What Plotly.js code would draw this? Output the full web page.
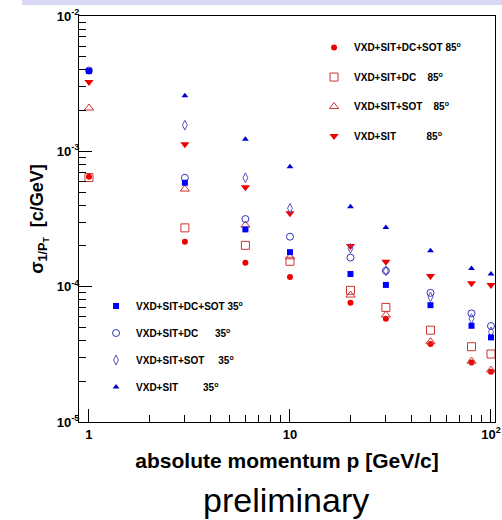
<!DOCTYPE html>
<html>
<head>
<meta charset="utf-8">
<script src="https://cdn.plot.ly/plotly-3.0.1.min.js"></script>
<style>html,body{margin:0;padding:0;background:#fff;}#chart{width:502px;height:520px;}</style>
</head>
<body>
<div id="chart"></div>
<script>
// momentum values [GeV/c]
const momentum = [1, 3, 6, 10, 20, 30, 50, 80, 100];

// 85 degrees (red)
const full85 = [6.5e-4, 2.15e-4, 1.50e-4, 1.18e-4, 7.6e-5, 5.8e-5, 3.77e-5, 2.75e-5, 2.35e-5];
const dc85   = [6.4e-4, 2.72e-4, 2.02e-4, 1.54e-4, 9.4e-5, 7.03e-5, 4.77e-5, 3.6e-5, 3.18e-5];
const sot85  = [2.09e-3, 5.26e-4, 2.85e-4, 1.66e-4, 8.67e-5, 6.17e-5, 3.92e-5, 2.82e-5, 2.42e-5];
const sit85  = [3.25e-3, 1.13e-3, 5.42e-4, 3.48e-4, 2.0e-4, 1.53e-4, 1.20e-4, 1.06e-4, 1.03e-4];

// 35 degrees (blue)
const full35 = [3.92e-3, 5.86e-4, 2.65e-4, 1.80e-4, 1.24e-4, 1.03e-4, 7.3e-5, 5.14e-5, 4.22e-5];
const dc35   = [3.95e-3, 6.38e-4, 3.16e-4, 2.34e-4, 1.64e-4, 1.31e-4, 9.0e-5, 6.35e-5, 5.12e-5];
const sot35  = [null, 1.56e-3, 6.38e-4, 3.79e-4, 1.92e-4, 1.31e-4, 8.4e-5, 5.8e-5, 4.64e-5];
const sit35  = [null, 2.58e-3, 1.23e-3, 7.69e-4, 3.90e-4, 2.74e-4, 1.84e-4, 1.36e-4, 1.24e-4];

const S = n => '\u00a0'.repeat(n);
const names85 = ["VXD+SIT+DC+SOT 85<sup>o</sup>",
                 "VXD+SIT+DC" + S(4) + "85<sup>o</sup>",
                 "VXD+SIT+SOT" + S(4) + "85<sup>o</sup>",
                 "VXD+SIT" + S(11) + "85<sup>o</sup>"];
const names35 = ["VXD+SIT+DC+SOT 35<sup>o</sup>",
                 "VXD+SIT+DC" + S(6) + "35<sup>o</sup>",
                 "VXD+SIT+SOT" + S(5) + "35<sup>o</sup>",
                 "VXD+SIT" + S(9) + "35<sup>o</sup>"];

const xTickVals = [1, 10, 100];
const xTickText = ["1", "10", "10<sup>2</sup>"];
const yTickVals = [1e-5, 1e-4, 1e-3, 1e-2];
const yTickText = ["10<sup>-5</sup>", "10<sup>-4</sup>", "10<sup>-3</sup>", "10<sup>-2</sup>"];

function tr(y, name, legend, rank, symbol, size, color, lw) {
  return {
    x: momentum, y: y, name: name, type: 'scatter', mode: 'markers',
    legend: legend, legendgroup: name, legendrank: rank,
    marker: {symbol: symbol, size: size, color: color, line: {width: lw || 0, color: color}},
    hoverinfo: 'x+y'
  };
}

const data = [
  tr(full85, names85[0], 'legend', 1, 'circle', 6, '#ee0000'),
  tr(dc85, names85[1], 'legend', 2, 'square-open', 8, '#cc3333', 1),
  tr(sot85, names85[2], 'legend', 3, 'triangle-up-open', 8, '#cc3333', 1),
  tr(sit85, names85[3], 'legend', 4, 'triangle-down', 8, '#ee0000'),
  tr(sit35, names35[3], 'legend2', 4, 'triangle-up', 6, '#0000cc'),
  tr(sot35, names35[2], 'legend2', 3, 'diamond-tall-open', 7, '#5555bb', 1),
  tr(dc35, names35[1], 'legend2', 2, 'circle-open', 7, '#3333bb', 1),
  tr(full35, names35[0], 'legend2', 1, 'square', 6, '#0000ff')
];

const axFont = {family: 'Liberation Sans, Arial, sans-serif', size: 13, color: '#000', weight: 'bold'};
const legFont = {family: 'Liberation Sans, Arial, sans-serif', size: 10, color: '#000', weight: 'bold'};

const layout = {
  width: 502, height: 520,
  margin: {l: 79, r: 7, t: 16, b: 98},
  paper_bgcolor: '#fff', plot_bgcolor: '#fff',
  showlegend: true,
  xaxis: {
    type: 'log', range: [Math.log10(0.892), Math.log10(104.7)],
    showgrid: false, zeroline: false,
    showline: true, mirror: true, linecolor: '#000', linewidth: 1,
    ticks: 'inside', ticklen: 13, tickcolor: '#000', tickwidth: 1,
    tickvals: xTickVals, ticktext: xTickText, tickfont: axFont,
    minor: {ticks: 'inside', ticklen: 7, tickcolor: '#000',
            tickvals: [2,3,4,5,6,7,8,9,20,30,40,50,60,70,80,90]},
    title: {text: 'absolute momentum p [GeV/c]', standoff: 12,
            font: {family: 'Liberation Sans, Arial, sans-serif', size: 21, color: '#000', weight: 'bold'}}
  },
  yaxis: {
    type: 'log', range: [-5, -2],
    showgrid: false, zeroline: false,
    showline: true, mirror: true, linecolor: '#000', linewidth: 1,
    ticks: 'inside', ticklen: 13, tickcolor: '#000', tickwidth: 1,
    ticklabelstandoff: -4,
    tickvals: yTickVals, ticktext: yTickText, tickfont: axFont,
    minor: {ticks: 'inside', ticklen: 7, tickcolor: '#000',
            tickvals: [2e-5,3e-5,4e-5,5e-5,6e-5,7e-5,8e-5,9e-5,2e-4,3e-4,4e-4,5e-4,6e-4,7e-4,8e-4,9e-4,2e-3,3e-3,4e-3,5e-3,6e-3,7e-3,8e-3,9e-3]},
    title: {text: 'σ<sub>1/P<sub>T</sub></sub>  [c/GeV]', standoff: 8,
            font: {family: 'Liberation Sans, Arial, sans-serif', size: 18, color: '#000', weight: 'bold'}}
  },
  legend: {x: 0.565, y: 0.958, xanchor: 'left', yanchor: 'top', bgcolor: 'rgba(0,0,0,0)',
           font: legFont, tracegroupgap: 10.5, traceorder: 'grouped'},
  legend2: {x: 0.041, y: 0.3214, xanchor: 'left', yanchor: 'top', bgcolor: 'rgba(0,0,0,0)',
            font: legFont, tracegroupgap: 8, traceorder: 'grouped'},
  shapes: [{type: 'rect', xref: 'paper', yref: 'paper', x0: -0.137, x1: 1.02,
            y0: 1 + 11/406, y1: 1 + 16/406, fillcolor: '#d8d8f2', line: {width: 0}, layer: 'below'}],
  annotations: [{text: 'preliminary', xref: 'paper', yref: 'paper', x: 0.497, y: -0.192,
                 xanchor: 'center', yanchor: 'middle', showarrow: false,
                 font: {family: 'Liberation Sans, Arial, sans-serif', size: 34, color: '#000'}}]
};

Plotly.newPlot('chart', data, layout, {displayModeBar: false, staticPlot: true});
</script>
</body>
</html>
